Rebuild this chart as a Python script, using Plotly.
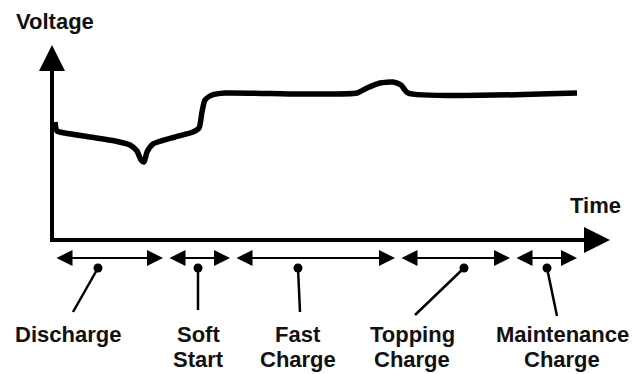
import plotly.graph_objects as go

# Voltage curve (time, voltage) in arbitrary units; origin at axes corner
curve_time = [3, 5, 13, 38, 63, 78, 85, 89, 92, 95, 101, 123, 141, 147, 150, 153, 160, 173,
              248, 305, 315, 328, 341, 349, 356, 525]
curve_volt = [118, 109, 107, 103, 99, 95, 89, 80, 78, 88, 96, 103, 108, 112, 128, 140, 145, 147,
              146, 147, 152, 157, 158, 155, 147, 147]

# Phases
label_line1 = ["Discharge", "Soft", "Fast", "Topping", "Maintenance"]
label_line2 = ["", "Start", "Charge", "Charge", "Charge"]
phase_start = [3, 116, 183, 348, 463]
phase_end = [111, 178, 343, 458, 525]
dot_time = [46, 146, 246, 412, 495]
leader_end_time = [21, 146, 248, 363, 505]
leader_end_volt = [-72, -70, -72, -75, -76]
label_time = [16, 146, 246, 360, 510]

X_AXIS_END = 558
Y_AXIS_END = 195
PHASE_Y = -18
DOT_Y = -28
LINE1_Y = -94
LINE2_Y = -119

FONT = "Liberation Sans, Arial, sans-serif"

fig = go.Figure()

# axes lines
fig.add_trace(go.Scatter(x=[0, 0, X_AXIS_END - 14], y=[Y_AXIS_END - 14, 0, 0], mode="lines",
                         line=dict(color="black", width=4), hoverinfo="skip"))

# curve
fig.add_trace(go.Scatter(x=curve_time, y=curve_volt, mode="lines",
                         line=dict(color="black", width=5.5, shape="spline", smoothing=0.6),
                         hoverinfo="skip"))

# leader lines
for i in range(len(label_line1)):
    fig.add_trace(go.Scatter(x=[dot_time[i], leader_end_time[i]], y=[DOT_Y, leader_end_volt[i]],
                             mode="lines", line=dict(color="black", width=2.5), hoverinfo="skip"))

# dots
fig.add_trace(go.Scatter(x=dot_time, y=[DOT_Y] * len(dot_time), mode="markers",
                         marker=dict(color="black", size=9), hoverinfo="skip"))

annotations = []
# axis arrowheads
annotations.append(dict(x=0, y=Y_AXIS_END, ax=0, ay=Y_AXIS_END - 30, xref="x", yref="y",
                        axref="x", ayref="y", showarrow=True, text="", arrowhead=2,
                        arrowsize=1.3, arrowwidth=4, arrowcolor="black"))
annotations.append(dict(x=X_AXIS_END, y=0, ax=X_AXIS_END - 30, ay=0, xref="x", yref="y",
                        axref="x", ayref="y", showarrow=True, text="", arrowhead=2,
                        arrowsize=1.3, arrowwidth=4, arrowcolor="black"))
# phase arrows
for s, e in zip(phase_start, phase_end):
    annotations.append(dict(x=e, y=PHASE_Y, ax=s, ay=PHASE_Y, xref="x", yref="y",
                            axref="x", ayref="y", showarrow=True, text="", arrowhead=2,
                            arrowside="end+start", arrowsize=1.6, arrowwidth=2, arrowcolor="black"))
# labels
lab_font = dict(family=FONT, size=22, color="#111", weight="bold")
for l1, l2, t in zip(label_line1, label_line2, label_time):
    annotations.append(dict(x=t, y=LINE1_Y, xref="x", yref="y", text=l1, showarrow=False,
                            xanchor="center", yanchor="middle", borderpad=0, font=lab_font))
    if l2:
        annotations.append(dict(x=t, y=LINE2_Y, xref="x", yref="y", text=l2, showarrow=False,
                                xanchor="center", yanchor="middle", borderpad=0, font=lab_font))
annotations.append(dict(x=3, y=219, xref="x", yref="y", text="Voltage", showarrow=False,
                        xanchor="center", yanchor="middle", borderpad=0, font=lab_font))
annotations.append(dict(x=543, y=35, xref="x", yref="y", text="Time", showarrow=False,
                        xanchor="center", yanchor="middle", borderpad=0, font=lab_font))

fig.update_layout(
    width=643, height=374,
    margin=dict(l=0, r=0, t=0, b=0),
    paper_bgcolor="white", plot_bgcolor="white",
    showlegend=False,
    xaxis=dict(range=[-44, 599], visible=False, fixedrange=True),
    yaxis=dict(range=[-142, 232], visible=False, fixedrange=True),
    annotations=annotations,
)

fig.write_html("out.html")
